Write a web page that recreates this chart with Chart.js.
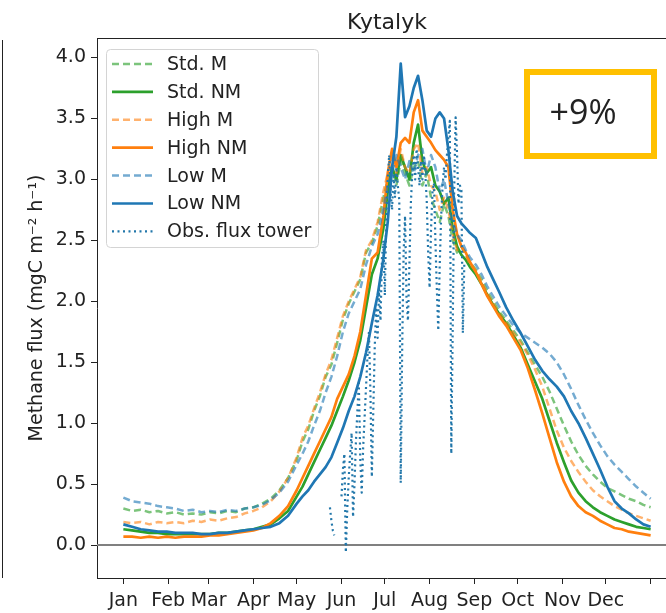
<!DOCTYPE html>
<html><head><meta charset="utf-8">
<script src="https://cdn.jsdelivr.net/npm/chart.js@4.4.1/dist/chart.umd.min.js"></script>
<style>
html,body{margin:0;padding:0;background:#fff;overflow:hidden;width:666px;height:613px;}
#wrap{position:relative;width:700px;height:613px;}
canvas{display:block;}
</style></head><body>
<div id="wrap"><canvas id="c" width="700" height="613"></canvas></div>
<script>
const chartTitle = 'Kytalyk';
const yAxisLabel = 'Methane flux (mgC m\u207B\u00B2 h\u207B\u00B9)';
const annotationText = '+9%';
const monthLabels = ['Jan','Feb','Mar','Apr','May','Jun','Jul','Aug','Sep','Oct','Nov','Dec',''];
const monthStartDays = [0,31,59,90,120,151,181,212,243,273,304,334,365];
const yTicks = [0,0.5,1.0,1.5,2.0,2.5,3.0,3.5,4.0];

const days = [0,6,12,18,24,30,36,42,48,54,60,66,72,78,84,90,96,102,108,114,120,
  124,128,132,136,140,144,148,152,156,160,164,168,172,176,180,183,186,189,192,195,198,201,204,207,210,213,216,219,222,225,228,231,234,237,240,244,248,252,256,260,
  265,270,275,280,285,290,295,300,305,310,315,320,325,330,335,340,345,350,355,360,365];

const stdM = [0.30,0.28,0.29,0.27,0.28,0.26,0.27,0.25,0.26,0.25,0.27,0.26,0.28,0.27,0.30,0.31,0.34,0.38,0.45,0.55,0.70,
  0.85,0.95,1.10,1.22,1.38,1.48,1.66,1.85,1.98,2.08,2.18,2.40,2.48,2.62,2.85,3.00,3.10,2.95,3.15,3.05,2.95,3.10,3.15,2.95,3.05,2.85,2.75,2.65,2.80,2.70,2.50,2.40,2.45,2.38,2.32,2.26,2.18,2.08,2.00,1.92,
  1.84,1.76,1.68,1.58,1.48,1.38,1.26,1.12,0.98,0.85,0.74,0.65,0.58,0.52,0.47,0.44,0.41,0.38,0.36,0.33,0.31];
const stdNM = [0.13,0.12,0.11,0.10,0.10,0.09,0.09,0.09,0.09,0.09,0.09,0.10,0.10,0.11,0.12,0.13,0.15,0.17,0.22,0.28,0.40,
  0.48,0.58,0.68,0.78,0.88,0.98,1.10,1.22,1.35,1.50,1.68,1.95,2.22,2.35,2.60,2.90,3.10,3.00,3.20,3.10,3.00,3.30,3.45,3.15,3.05,3.10,2.95,2.90,2.80,2.85,2.60,2.45,2.38,2.34,2.28,2.22,2.14,2.05,1.97,1.90,
  1.82,1.72,1.62,1.48,1.34,1.20,1.02,0.84,0.68,0.53,0.43,0.36,0.31,0.27,0.24,0.21,0.19,0.17,0.15,0.14,0.13];
const highM = [0.19,0.18,0.19,0.17,0.19,0.18,0.19,0.18,0.20,0.19,0.21,0.20,0.22,0.23,0.26,0.28,0.31,0.36,0.44,0.55,0.72,
  0.88,0.98,1.12,1.25,1.40,1.52,1.70,1.88,2.00,2.10,2.20,2.42,2.50,2.65,2.90,3.05,3.20,3.05,3.25,3.10,3.05,3.25,3.30,3.05,3.10,2.95,2.90,2.75,2.85,2.75,2.55,2.42,2.45,2.38,2.30,2.25,2.16,2.06,1.98,1.90,
  1.82,1.74,1.66,1.56,1.44,1.30,1.12,0.94,0.80,0.69,0.60,0.52,0.45,0.40,0.36,0.32,0.29,0.26,0.24,0.22,0.20];
const highNM = [0.07,0.07,0.06,0.07,0.06,0.07,0.06,0.07,0.07,0.07,0.08,0.08,0.09,0.10,0.11,0.12,0.14,0.18,0.24,0.32,0.45,
  0.55,0.65,0.75,0.85,0.95,1.05,1.20,1.30,1.40,1.55,1.75,2.05,2.35,2.40,2.70,3.05,3.25,3.10,3.30,3.34,3.30,3.55,3.65,3.40,3.35,3.30,3.24,3.20,3.16,3.10,2.75,2.55,2.45,2.40,2.32,2.24,2.14,2.04,1.96,1.88,
  1.80,1.70,1.60,1.45,1.27,1.08,0.88,0.68,0.52,0.40,0.32,0.27,0.24,0.20,0.17,0.14,0.13,0.11,0.10,0.09,0.08];
const lowM = [0.39,0.36,0.35,0.34,0.32,0.31,0.30,0.28,0.29,0.27,0.28,0.27,0.29,0.28,0.30,0.31,0.33,0.37,0.43,0.52,0.66,
  0.75,0.85,0.98,1.10,1.25,1.38,1.55,1.75,1.90,2.00,2.10,2.30,2.45,2.55,2.75,2.95,3.05,3.20,3.10,3.00,3.15,3.05,3.20,3.25,3.05,3.20,3.10,2.90,3.00,2.80,2.65,2.55,2.50,2.42,2.36,2.30,2.22,2.12,2.04,1.96,
  1.88,1.80,1.74,1.70,1.66,1.62,1.57,1.50,1.40,1.28,1.15,1.03,0.92,0.82,0.73,0.66,0.60,0.54,0.48,0.43,0.38];
const lowNM = [0.17,0.15,0.13,0.12,0.11,0.11,0.10,0.10,0.10,0.09,0.09,0.10,0.10,0.11,0.12,0.13,0.14,0.15,0.18,0.24,0.34,
  0.40,0.45,0.52,0.58,0.64,0.72,0.84,0.96,1.10,1.22,1.38,1.58,1.82,2.05,2.35,2.65,3.10,3.35,3.95,3.51,3.60,3.75,3.85,3.65,3.40,3.35,3.50,3.55,3.50,3.24,2.90,2.70,2.64,2.60,2.56,2.52,2.40,2.28,2.18,2.08,
  1.95,1.84,1.74,1.63,1.52,1.43,1.36,1.30,1.22,1.10,1.00,0.88,0.75,0.62,0.48,0.36,0.30,0.26,0.21,0.17,0.15];

const obsDays = [143,144,145,146,147,151,152,153,154,155,156,157,158,159,160,161,162,163,164,165,166,167,168,169,170,171,172,173,174,175,176,177,178,179,180,181,182,183,184,185,186,187,188,189,190,191,192,193,194,195,196,197,198,199,200,201,202,203,204,205,206,207,208,209,210,211,212,213,214,215,216,217,218,219,220,221,222,223,224,225,226,227,228,229,230,231,232,233,234,235,236];
const obsValues = [0.31,0.20,0.12,0.08,null,0.40,0.62,0.75,-0.06,0.30,0.55,0.75,0.92,0.23,0.50,0.85,1.10,1.33,0.70,0.43,0.80,1.05,1.30,1.55,1.75,1.27,0.56,1.10,1.62,1.95,1.70,2.10,1.84,2.35,2.50,2.05,2.69,3.00,3.20,2.90,2.75,3.05,2.85,3.10,2.95,2.83,0.51,1.60,2.40,2.70,2.03,1.84,2.30,2.80,3.05,3.20,3.00,3.25,3.10,2.95,3.15,3.00,3.20,3.05,2.83,2.40,2.11,2.60,2.90,2.97,2.50,2.10,1.76,2.30,2.70,2.95,3.10,3.00,3.20,3.35,3.48,0.75,1.80,2.90,3.51,3.20,2.80,2.95,2.91,1.74,2.30];

function pts(xs, ys){ return xs.map((d,i)=>({x:d, y:ys[i]})); }

const GREEN='#2ca02c', ORANGE='#ff7f0e', BLUE='#1f77b4';
const datasets = [
  {label:'Std. M', data:pts(days,stdM), borderColor:'rgba(44,160,44,0.62)', borderDash:[7,4], borderWidth:2.5, order:6},
  {label:'Std. NM', data:pts(days,stdNM), borderColor:GREEN, borderWidth:2.7, order:5},
  {label:'High M', data:pts(days,highM), borderColor:'rgba(255,127,14,0.6)', borderDash:[7,4], borderWidth:2.5, order:4},
  {label:'High NM', data:pts(days,highNM), borderColor:ORANGE, borderWidth:2.7, order:3},
  {label:'Low M', data:pts(days,lowM), borderColor:'rgba(31,119,180,0.62)', borderDash:[7,4], borderWidth:2.5, order:2},
  {label:'Low NM', data:pts(days,lowNM), borderColor:BLUE, borderWidth:2.7, order:1},
  {label:'Obs. flux tower', data:pts(obsDays,obsValues), borderColor:'#2277aa', borderDash:[2,3.5], borderWidth:2.2, order:0, spanGaps:false}
];

const FONT = 'DejaVu Sans';
const decor = {
  id:'decor',
  beforeDatasetsDraw(chart){
    const {ctx, chartArea:a, scales:{y}} = chart;
    const y0 = y.getPixelForValue(0);
    ctx.save();
    ctx.strokeStyle='#808080'; ctx.lineWidth=2;
    ctx.beginPath(); ctx.moveTo(a.left,y0); ctx.lineTo(a.right,y0); ctx.stroke();
    ctx.restore();
  },
  afterDraw(chart){
    const {ctx, chartArea:a} = chart;
    ctx.save();
    ctx.strokeStyle='#222'; ctx.lineWidth=1;
    ctx.beginPath(); ctx.moveTo(a.left,a.top+0.5); ctx.lineTo(a.right,a.top+0.5); ctx.lineTo(a.right,a.bottom); ctx.stroke();
    ctx.beginPath(); ctx.moveTo(2.5,a.top+2); ctx.lineTo(2.5,a.bottom); ctx.stroke();
    ctx.fillStyle='#222'; ctx.font='22px "'+FONT+'"'; ctx.textAlign='center'; ctx.textBaseline='alphabetic';
    ctx.fillText(chartTitle,(a.left+a.right)/2,29);
    const lx=106.5, ly=49.5, lw=212, lh=198, r=4;
    ctx.beginPath();
    ctx.moveTo(lx+r,ly); ctx.lineTo(lx+lw-r,ly); ctx.arcTo(lx+lw,ly,lx+lw,ly+r,r);
    ctx.lineTo(lx+lw,ly+lh-r); ctx.arcTo(lx+lw,ly+lh,lx+lw-r,ly+lh,r);
    ctx.lineTo(lx+r,ly+lh); ctx.arcTo(lx,ly+lh,lx,ly+lh-r,r);
    ctx.lineTo(lx,ly+r); ctx.arcTo(lx,ly,lx+r,ly,r); ctx.closePath();
    ctx.fillStyle='rgba(255,255,255,0.85)'; ctx.fill();
    ctx.strokeStyle='#d4d4d4'; ctx.lineWidth=1; ctx.stroke();
    ctx.font='19px "'+FONT+'"'; ctx.textAlign='left'; ctx.textBaseline='middle';
    chart.data.datasets.forEach((ds,i)=>{
      const yy = 64 + i*27.9;
      ctx.save();
      ctx.strokeStyle=ds.borderColor; ctx.lineWidth=ds.borderWidth;
      ctx.setLineDash(ds.borderDash||[]);
      ctx.beginPath(); ctx.moveTo(112,yy); ctx.lineTo(153,yy); ctx.stroke();
      ctx.restore();
      ctx.fillStyle='#222'; ctx.fillText(ds.label,167,yy+1);
    });
    ctx.strokeStyle='#FFC000'; ctx.lineWidth=6;
    ctx.strokeRect(527,72,127,84);
    ctx.fillStyle='#222'; ctx.font='34px "Open Sans"'; ctx.textAlign='center'; ctx.textBaseline='middle';
    ctx.fillText(annotationText,583,114);
    ctx.restore();
  }
};

new Chart(document.getElementById('c'), {
  type:'line',
  data:{datasets},
  options:{
    responsive:false, animation:false,
    layout:{padding:{top:38,right:23,left:0,bottom:0}},
    elements:{point:{radius:0}, line:{tension:0, borderJoinStyle:'round'}},
    plugins:{legend:{display:false}, tooltip:{enabled:false}, title:{display:false}},
    scales:{
      x:{type:'linear', min:-18.25, max:383.25,
        afterBuildTicks:s=>{s.ticks=monthStartDays.map(v=>({value:v}));},
        ticks:{callback:(v,i)=>monthLabels[i], autoSkip:false, maxRotation:0, color:'#222', padding:6, font:{family:FONT,size:19}},
        grid:{drawOnChartArea:false, drawTicks:true, tickLength:6, color:'#222'},
        border:{display:true,color:'#222',width:1},
        afterFit:s=>{s.height=35;}
      },
      y:{type:'linear', min:-0.27, max:4.16,
        afterBuildTicks:s=>{s.ticks=yTicks.map(v=>({value:v}));},
        ticks:{callback:v=>Number(v).toFixed(1), color:'#222', padding:5, font:{family:FONT,size:19}},
        grid:{drawOnChartArea:false, drawTicks:true, tickLength:6, color:'#222'},
        border:{display:true,color:'#222',width:1},
        title:{display:true, text:yAxisLabel, color:'#222', font:{family:FONT,size:19}, padding:{top:26,bottom:0}},
        afterFit:s=>{s.width=97;}
      }
    }
  },
  plugins:[decor]
});
</script>
</body></html>
